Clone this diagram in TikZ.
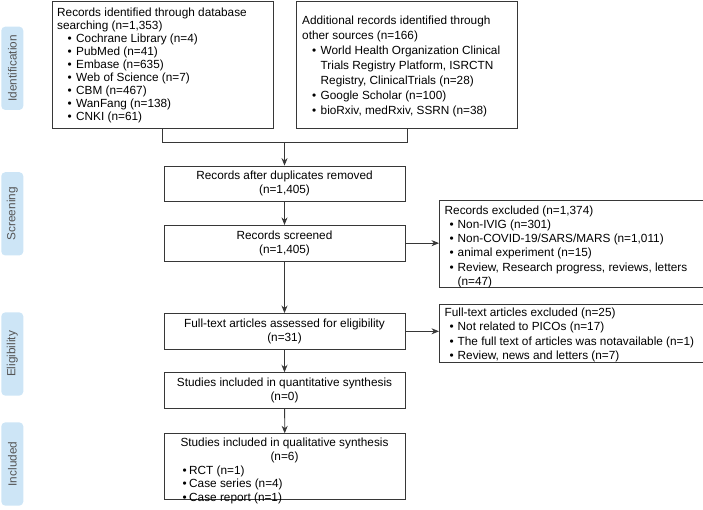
\documentclass[tikz,border=0pt]{standalone}
\usepackage{fontspec}
\setmainfont{Liberation Sans}
\usetikzlibrary{arrows.meta}
\definecolor{lineC}{RGB}{55,55,55}
\definecolor{sideC}{RGB}{205,229,246}
\definecolor{sideT}{RGB}{85,85,85}
\newcommand\bitem[2]{\hspace*{#1}\makebox[#2][l]{•}}
\begin{document}
\begin{tikzpicture}[x=1pt,y=-1pt,
 frame/.style={draw=lineC, line width=0.8pt, rectangle, inner sep=0pt, anchor=north west},
 txt/.style={inner sep=0pt, anchor=north west, align=left, text=black},
 cbox/.style={draw=lineC, line width=0.8pt, rectangle, inner sep=0pt, align=center, minimum width=241pt, minimum height=35.7pt, text=black, font=\fontsize{11.8}{14}\selectfont},
 side/.style={fill=sideC, rounded corners=4pt, minimum width=83.3pt, minimum height=22pt, rotate=90, text=sideT, font=\fontsize{11.8}{14}\selectfont, inner sep=0pt},
 arr/.style={draw=lineC, line width=0.8pt, -{Stealth[length=7.5pt,width=6pt]}},
 ln/.style={draw=lineC, line width=0.8pt}]
\useasboundingbox (0,0) rectangle (703,509);

% side labels
\node[side] (sid) at (12.3,68.3) {Identification};
\node[side] (sscr) at (12.3,213.8) {Screening};
\node[side] (sel) at (12.3,354) {Eligibility};
\node[side] (sinc) at (12.3,464) {Included};

% identification boxes
\node[frame, minimum width=221pt, minimum height=127.5pt] (db) at (51.7,0.8) {};
\node[txt, font=\fontsize{11.8}{13}\selectfont] (dbt) at (57,7.3) {Records identified through database\\
searching (n=1,353)\\
\bitem{10.5pt}{8.5pt}Cochrane Library (n=4)\\
\bitem{10.5pt}{8.5pt}PubMed (n=41)\\
\bitem{10.5pt}{8.5pt}Embase (n=635)\\
\bitem{10.5pt}{8.5pt}Web of Science (n=7)\\
\bitem{10.5pt}{8.5pt}CBM (n=467)\\
\bitem{10.5pt}{8.5pt}WanFang (n=138)\\
\bitem{10.5pt}{8.5pt}CNKI (n=61)};

\node[frame, minimum width=221pt, minimum height=127.5pt] (oth) at (296,0.8) {};
\node[txt, font=\fontsize{11.8}{15}\selectfont] (otht) at (302,15.5) {Additional records identified through\\
other sources (n=166)\\
\bitem{10pt}{8.5pt}World Health Organization Clinical\\
\hspace*{18.5pt}Trials Registry Platform, ISRCTN\\
\hspace*{18.5pt}Registry, ClinicalTrials (n=28)\\
\bitem{10pt}{8.5pt}Google Scholar (n=100)\\
\bitem{10pt}{8.5pt}bioRxiv, medRxiv, SSRN (n=38)};

% main column
\node[cbox] (dup) at (284.5,183.85) {Records after duplicates removed\\(n=1,405)};
\node[cbox] (scr) at (284.5,243.15) {Records screened\\(n=1,405)};
\node[cbox] (ft) at (284.5,331.3) {Full-text articles assessed for eligibility\\(n=31)};
\node[cbox] (quant) at (284.5,390.5) {Studies included in quantitative synthesis\\(n=0)};
\node[frame, minimum width=241pt, minimum height=65.7pt] (qual) at (164,433.3) {};
\node[txt, anchor=north, align=center, font=\fontsize{11.8}{13.75}\selectfont] (qualh) at (284.5,437.8) {Studies included in qualitative synthesis\\(n=6)};
\node[txt, font=\fontsize{11.8}{13.75}\selectfont] (qualb) at (169.5,465.3) {\bitem{13pt}{6.5pt}RCT (n=1)\\
\bitem{13pt}{6.5pt}Case series (n=4)\\
\bitem{13pt}{6.5pt}Case report (n=1)};

% exclusion boxes
\node[frame, minimum width=263.5pt, minimum height=87.3pt] (ex1) at (439,200) {};
\node[txt, font=\fontsize{11.8}{14.2}\selectfont] (ex1t) at (444.5,205.6) {Records excluded (n=1,374)\\
\bitem{5pt}{8pt}Non-IVIG (n=301)\\
\bitem{5pt}{8pt}Non-COVID-19/SARS/MARS (n=1,011)\\
\bitem{5pt}{8pt}animal experiment (n=15)\\
\bitem{5pt}{8pt}Review, Research progress, reviews, letters\\
\hspace*{13pt}(n=47)};

\node[frame, minimum width=263.5pt, minimum height=57.4pt] (ex2) at (439,304.3) {};
\node[txt, font=\fontsize{11.8}{14.5}\selectfont] (ex2t) at (444.5,307.6) {Full-text articles excluded (n=25)\\
\bitem{5pt}{8pt}Not related to PICOs (n=17)\\
\bitem{5pt}{8pt}The full text of articles was notavailable (n=1)\\
\bitem{5pt}{8pt}Review, news and letters (n=7)};

% connectors
\coordinate (merge) at (284.5,142.7);
\draw[ln] (db.south) |- (merge) -| (oth.south);
\draw[arr] (merge) -- (dup.north);
\draw[arr] (dup) -- (scr);
\draw[arr] (scr) -- (ft);
\draw[arr] (ft) -- (quant);
\draw[arr] (quant) -- (qual);
\draw[arr] (scr.east) -- (scr.east -| ex1.west);
\draw[arr] (ft.east) -- (ft.east -| ex2.west);
\end{tikzpicture}
\end{document}
